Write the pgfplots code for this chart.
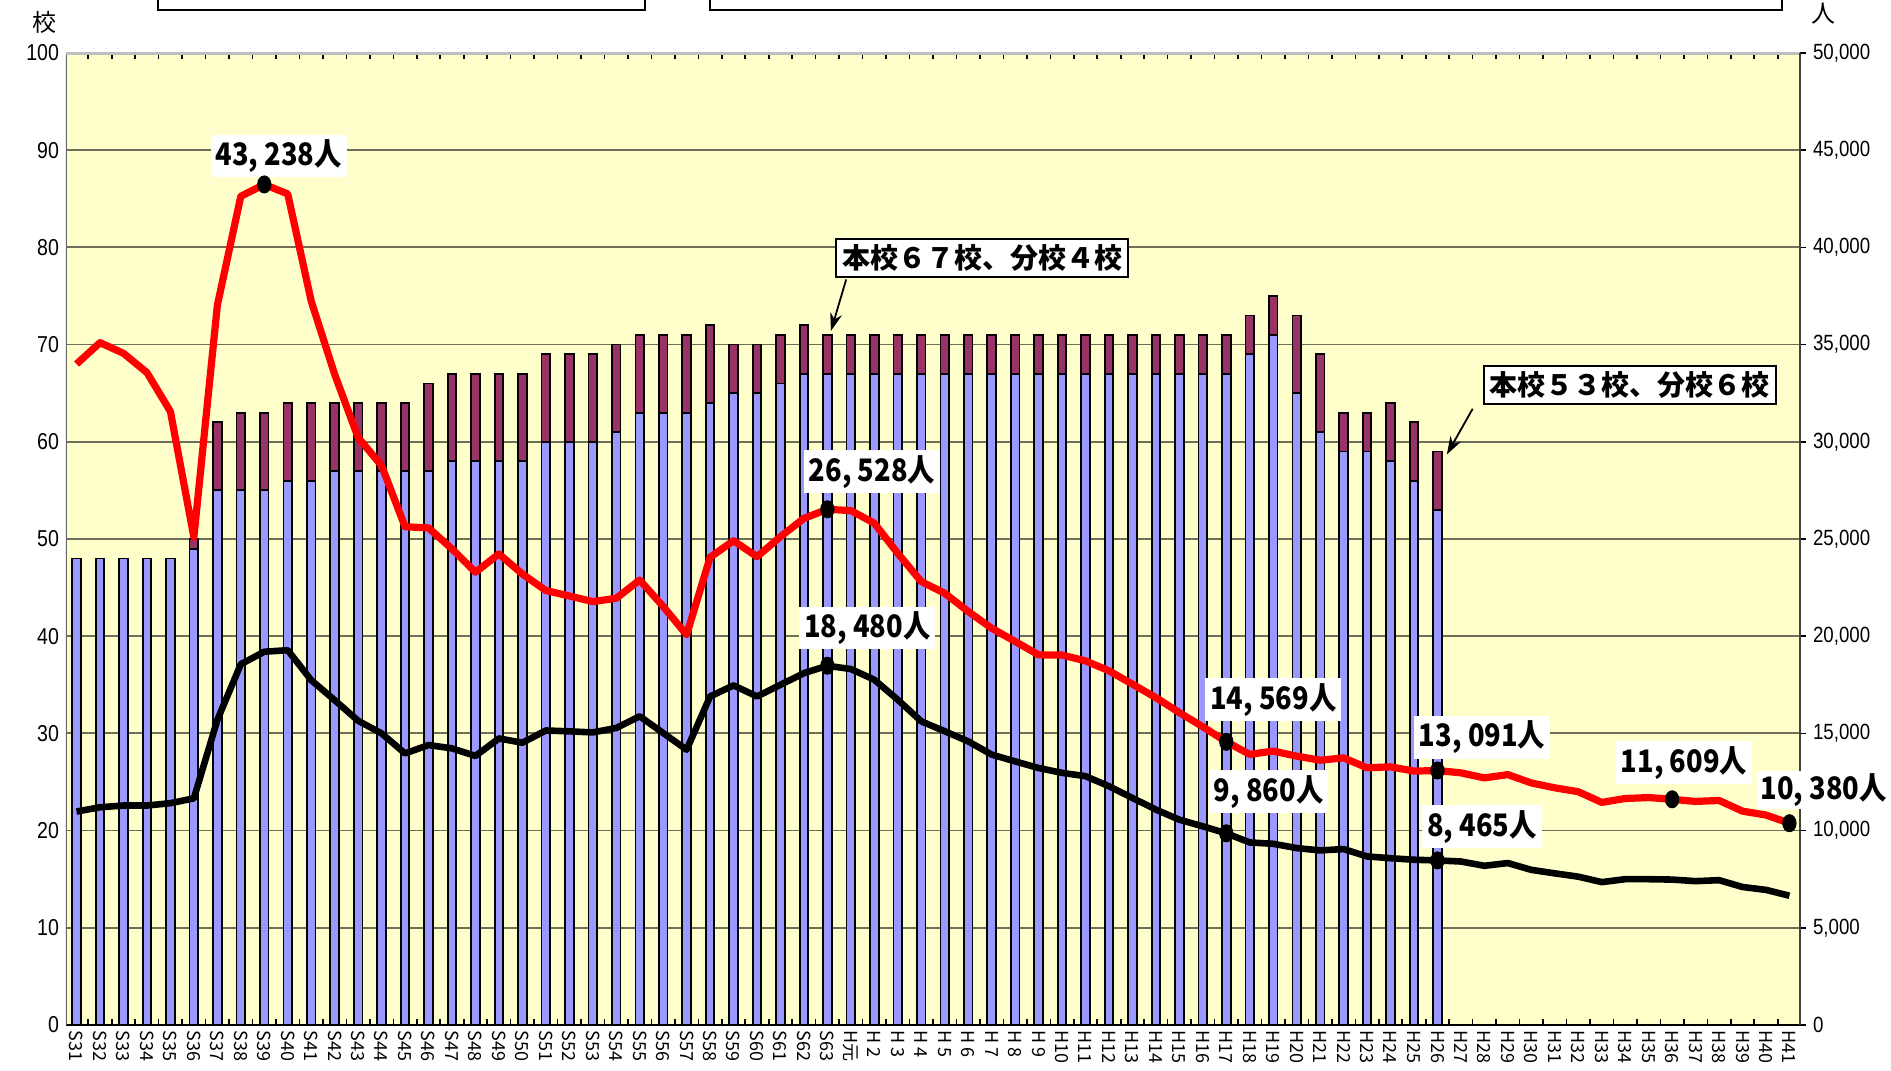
\documentclass[border=0pt]{standalone}
\usepackage{pgfplots}
\pgfplotsset{compat=1.18}
\usepackage{pgfplotstable}
\usetikzlibrary{arrows.meta}
\usepackage{fontspec}
\setmainfont{Liberation Sans}
\newfontfamily\narrow{Liberation Sans}[FakeStretch=0.85]
\newfontfamily\jp{Noto Sans CJK JP}
\newfontfamily\jpn{Noto Sans CJK JP}[FakeStretch=0.88]
\definecolor{bgY}{RGB}{255,255,204}
\definecolor{barB}{RGB}{153,153,255}
\definecolor{barM}{RGB}{153,51,102}
\definecolor{gridC}{RGB}{110,110,90}
\tikzset{
  lab/.style={fill=white, inner sep=2.5pt, font=\jpn\bfseries\fontsize{15.5}{16}\selectfont},
  box/.style={fill=white, draw=black, line width=1pt, inner sep=3pt, font=\jp\bfseries\fontsize{14}{15}\selectfont},
}

\pgfplotstableread{
idx honko bunko
0 48 0
1 48 0
2 48 0
3 48 0
4 48 0
5 49 1
6 55 7
7 55 8
8 55 8
9 56 8
10 56 8
11 57 7
12 57 7
13 57 7
14 57 7
15 57 9
16 58 9
17 58 9
18 58 9
19 58 9
20 60 9
21 60 9
22 60 9
23 61 9
24 63 8
25 63 8
26 63 8
27 64 8
28 65 5
29 65 5
30 66 5
31 67 5
32 67 4
33 67 4
34 67 4
35 67 4
36 67 4
37 67 4
38 67 4
39 67 4
40 67 4
41 67 4
42 67 4
43 67 4
44 67 4
45 67 4
46 67 4
47 67 4
48 67 4
49 67 4
50 69 4
51 71 4
52 65 8
53 61 8
54 59 4
55 59 4
56 58 6
57 56 6
58 53 6
}\bars

\pgfplotstableread{
idx total sub
0 34000 10980
1 35100 11200
2 34550 11290
3 33560 11290
4 31560 11410
5 25090 11660
6 37020 15690
7 42630 18560
8 43238 19200
9 42750 19280
10 37240 17740
11 33470 16710
12 30220 15650
13 28770 15000
14 25630 13970
15 25570 14400
16 24490 14230
17 23290 13840
18 24230 14740
19 23200 14520
20 22350 15150
21 22070 15105
22 21780 15050
23 21950 15280
24 22890 15880
25 21530 15020
26 20070 14160
27 24060 16900
28 24910 17470
29 24090 16900
30 25120 17500
31 26060 18100
32 26528 18480
33 26460 18310
34 25810 17760
35 24260 16730
36 22810 15620
37 22210 15110
38 21270 14590
39 20410 13910
40 19730 13560
41 19040 13220
42 19030 12970
43 18730 12800
44 18220 12280
45 17530 11680
46 16840 11080
47 16070 10560
48 15340 10220
49 14569 9860
50 13920 9390
51 14090 9320
52 13830 9100
53 13620 8980
54 13740 9050
55 13230 8670
56 13280 8580
57 13060 8500
58 13091 8465
59 12970 8410
60 12710 8190
61 12880 8330
62 12450 7980
63 12200 7800
64 12000 7630
65 11450 7350
66 11650 7500
67 11700 7500
68 11609 7480
69 11500 7400
70 11550 7450
71 11000 7100
72 10800 6950
73 10380 6650
}\lines

\begin{document}
\begin{tikzpicture}
\useasboundingbox (-33pt,-23pt) rectangle (912.5pt,512.5pt);
\draw[line width=1.3pt, fill=white] (46pt,507.5pt) rectangle (289.5pt,530pt);
\draw[line width=1.3pt, fill=white] (322pt,507.5pt) rectangle (858pt,530pt);
\node[font=\jp\fontsize{12}{12}\selectfont] at (-10.5pt,501.5pt) {校};
\node[font=\jp\fontsize{12}{12}\selectfont] at (878.5pt,505.5pt) {人};

\begin{axis}[
  at={(0pt,0pt)}, anchor=south west,
  scale only axis, width=867pt, height=486pt,
  xmin=-0.45, xmax=73.45, ymin=0, ymax=100,
  axis background/.style={fill=bgY},
  axis line style={draw=none},
  ybar stacked, bar width=4.3pt,
  xtick={0,...,73},
  xticklabels={S31,S32,S33,S34,S35,S36,S37,S38,S39,S40,S41,S42,S43,S44,S45,S46,S47,S48,S49,S50,S51,S52,S53,S54,S55,S56,S57,S58,S59,S60,S61,S62,S63,H元,H~2,H~3,H~4,H~5,H~6,H~7,H~8,H~9,H10,H11,H12,H13,H14,H15,H16,H17,H18,H19,H20,H21,H22,H23,H24,H25,H26,H27,H28,H29,H30,H31,H32,H33,H34,H35,H36,H37,H38,H39,H40,H41},
  xticklabel style={rotate=-90, anchor=west, font=\jp\fontsize{9}{9}\selectfont, inner sep=1pt, xshift=1.5pt},
  major x tick style={draw=none},
  minor xtick={-0.5,0.5,...,73.5},
  minor x tick style={black, line width=0.8pt},
  minor tick length=3pt,
  tick align=inside,
  ytick={0,10,...,100},
  ytick style={draw=none},
  yticklabel style={font=\narrow\fontsize{11.5}{12}\selectfont},
  /pgf/number format/assume math mode=true,
  ymajorgrids=true,
  major grid style={gridC, line width=0.9pt},
]
\addplot[fill=barB, draw=black, line width=0.9pt] table[x=idx,y=honko]{\bars};
\addplot[fill=barM, draw=black, line width=0.9pt] table[x=idx,y=bunko]{\bars};
\draw[line width=2pt, black!25] (rel axis cs:0,1) -- (rel axis cs:1,1);
\draw[line width=1pt, black!60] (rel axis cs:0,0) -- (rel axis cs:0,1);
\draw[line width=1.2pt, black] (rel axis cs:0,0) -- (rel axis cs:1,0);
\end{axis}

\begin{axis}[
  at={(0pt,0pt)}, anchor=south west,
  scale only axis, width=867pt, height=486pt,
  xmin=-0.45, xmax=73.45, ymin=0, ymax=50000,
  axis x line=none, axis y line*=right,
  y axis line style={black!75, line width=1pt},
  ytick={0,5000,...,50000},
  scaled y ticks=false,
  ytick style={black, line width=0.8pt},
  major tick length=3pt,
  tick align=outside,
  yticklabel style={font=\narrow\fontsize{11}{12}\selectfont},
  /pgf/number format/.cd, 1000 sep={,}, assume math mode=true,
  /pgfplots/.cd,
  clip=false,
]
\addplot[red, line width=3.6pt, line join=round] table[x=idx,y=total]{\lines};
\addplot[black, line width=3.3pt, line join=round] table[x=idx,y=sub]{\lines};
\addplot[only marks, mark=*, mark size=4.3pt, mark options={black, xscale=0.78}] coordinates {
(8,43238) (32,26528) (32,18480) (49,14569) (49,9860) (58,13091) (58,8465) (68,11609) (73,10380)};
\node[lab] at (axis cs:8.62,44700) {43, 238人};
\node[lab] at (axis cs:33.9,28450) {26, 528人};
\node[lab] at (axis cs:33.7,20420) {18, 480人};
\node[lab] at (axis cs:51.0,16720) {14, 569人};
\node[lab] at (axis cs:50.8,11990) {9, 860人};
\node[lab] at (axis cs:59.9,14810) {13, 091人};
\node[lab] at (axis cs:59.9,10190) {8, 465人};
\node[lab] at (axis cs:68.5,13480) {11, 609人};
\node[lab, inner sep=1.5pt] at (axis cs:74.45,12090) {10, 380人};
\node[box] at (axis cs:38.6,39450) {本校６７校、分校４校};
\node[box] at (axis cs:66.2,32920) {本校５３校、分校６校};
\draw[-{Stealth[length=9pt,width=6pt]}, line width=0.9pt] (axis cs:32.8,38350) -- (axis cs:32.15,35700);
\draw[-{Stealth[length=9pt,width=6pt]}, line width=0.9pt] (axis cs:59.5,31700) -- (axis cs:58.4,29350);
\end{axis}
\end{tikzpicture}
\end{document}
